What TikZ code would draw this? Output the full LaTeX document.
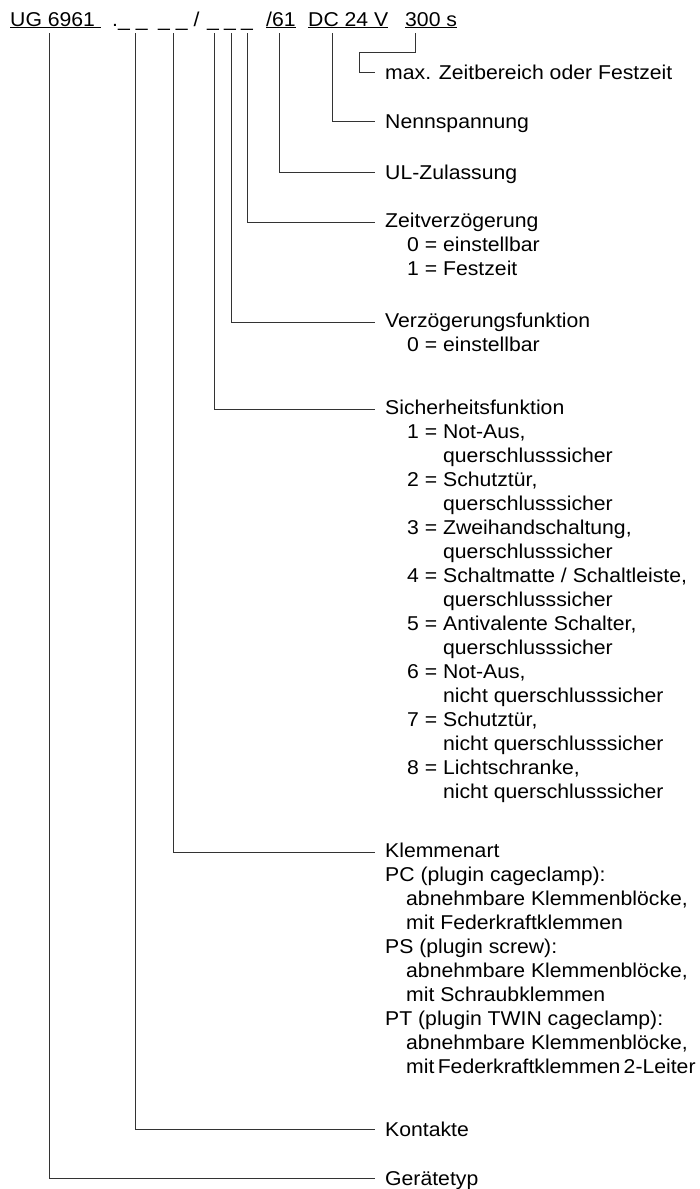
\documentclass[tikz,border=0pt]{standalone}
\usepackage{fontspec}
\setmainfont{Liberation Sans}[FakeStretch=1.06]
\usetikzlibrary{positioning,calc}

\newcommand{\nr}{\hspace*{22pt}}
\newcommand{\fort}{\hspace*{22pt}\hphantom{1 = }}
\newcommand{\sub}{\hspace*{21pt}}

\begin{document}
\begin{tikzpicture}[
  x=1pt,y=-1pt,
  every node/.style={inner sep=0pt,font=\fontsize{20}{24}\selectfont},
  head/.style={anchor=base west},
  label/.style={anchor=north west,yshift=9.6pt,align=left,execute at begin node=\strut},
  lead/.style={line width=0.9pt,draw=black!80},
  ]
  \useasboundingbox (0,0) rectangle (699,1189);
  % Bestellschluessel
  \node[head] (ug) at (10,26) {\underline{UG 6961\ }};
  \node[head] (kon) at (112,26) {.\_ \_};
  \node[head] (klem) at (158,26) {\_ \_ /};
  \node[head] (sich) at (207,26) {\_};
  \node[head] (verz) at (224,26) {\_};
  \node[head] (zeit) at (241,26) {\_};
  \node[head] (ul) at (266,26) {\underline{/61}};
  \node[head] (dc) at (308,26) {\underline{DC 24 V}};
  \node[head] (zb) at (405,26) {\underline{300 s}};
  % Erklaerungen
  \node[label] (zeitb) at (385,72) {max. Zeitbereich oder Festzeit};
  \node[label] (nenn) at (385,121) {Nennspannung};
  \node[label] (ulz) at (385,172) {UL-Zulassung};
  \node[label] (zeitv) at (385,222) {Zeitverzögerung\\
    \nr 0 = einstellbar\\
    \nr 1 = Festzeit};
  \node[label] (verzfn) at (385,322) {Verzögerungsfunktion\\
    \nr 0 = einstellbar};
  \node[label] (sichfn) at (385,409) {Sicherheitsfunktion\\
    \nr 1 = Not-Aus,\\ \fort querschlusssicher\\
    \nr 2 = Schutztür,\\ \fort querschlusssicher\\
    \nr 3 = Zweihandschaltung,\\ \fort querschlusssicher\\
    \nr 4 = Schaltmatte / Schaltleiste,\\ \fort querschlusssicher\\
    \nr 5 = Antivalente Schalter,\\ \fort querschlusssicher\\
    \nr 6 = Not-Aus,\\ \fort nicht querschlusssicher\\
    \nr 7 = Schutztür,\\ \fort nicht querschlusssicher\\
    \nr 8 = Lichtschranke,\\ \fort nicht querschlusssicher};
  \node[label] (klemart) at (385,852) {Klemmenart\\
    PC (plugin cageclamp):\\
    \sub abnehmbare Klemmenblöcke,\\
    \sub mit Federkraftklemmen\\
    PS (plugin screw):\\
    \sub abnehmbare Klemmenblöcke,\\
    \sub mit Schraubklemmen\\
    PT (plugin TWIN cageclamp):\\
    \sub abnehmbare Klemmenblöcke,\\
    \sub mit\,Federkraftklemmen\,2-Leiter};
  \node[label] (kont) at (385,1129) {Kontakte};
  \node[label] (gtyp) at (385,1178) {Gerätetyp};
  % Verbindungen
  \draw[lead] (zb.base west) ++(10,7) -- ++(0,19) -| ($(zeitb.north west)+(-26,9.6)$) -- ++(16,0);
  \draw[lead] (dc.base west) ++(24,7) |- ($(nenn.north west)+(-10,9.6)$);
  \draw[lead] (ul.base west) ++(13,7) |- ($(ulz.north west)+(-10,9.6)$);
  \draw[lead] (zeit.base west) ++(6,7) |- ($(zeitv.north west)+(-10,9.6)$);
  \draw[lead] (verz.base west) ++(7,7) |- ($(verzfn.north west)+(-10,9.6)$);
  \draw[lead] (sich.base west) ++(7,7) |- ($(sichfn.north west)+(-10,9.6)$);
  \draw[lead] (klem.base west) ++(15,7) |- ($(klemart.north west)+(-10,9.6)$);
  \draw[lead] (kon.base west) ++(23,7) |- ($(kont.north west)+(-10,9.6)$);
  \draw[lead] (ug.base west) ++(39,7) |- ($(gtyp.north west)+(-10,9.6)$);
\end{tikzpicture}
\end{document}
